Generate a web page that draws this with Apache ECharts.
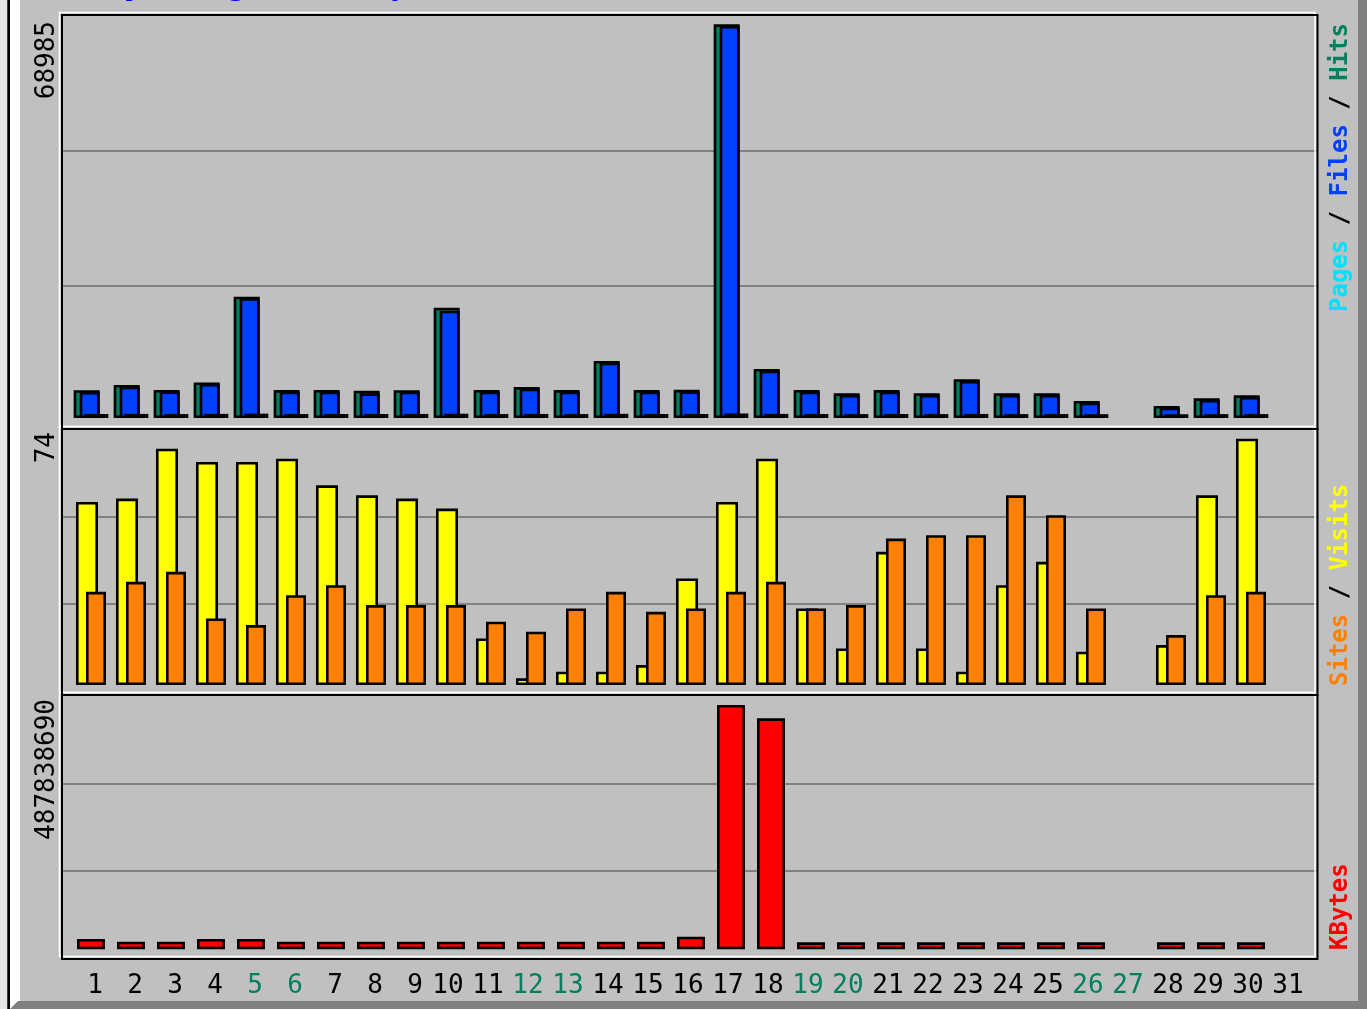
<!DOCTYPE html>
<html>
<head>
<meta charset="utf-8">
<script src="https://cdn.jsdelivr.net/npm/echarts@6/dist/echarts.min.js"></script>
<style>
html,body{margin:0;padding:0;background:#c0c0c0;overflow:hidden;}
#c{width:1367px;height:1009px;}
</style>
</head>
<body>
<div id="c"></div>
<script>
// ---- data ----
const titleText = 'Daily usage for April 2014';
const days = ['1','2','3','4','5','6','7','8','9','10','11','12','13','14','15','16','17','18','19','20','21','22','23','24','25','26','27','28','29','30','31'];
const weekendDays = ['5','6','12','13','19','20','26','27'];

const hits  = [4870, 5790, 4925, 6240, 21260, 4890, 4915, 4785, 4880, 19330, 4905, 5420, 4895, 9990, 4900, 4930, 68985, 8590, 4910, 4330, 4885, 4340, 6790, 4335, 4320, 2980, null, 2100, 3450, 3980, null];
const files = [4590, 5510, 4640, 5960, 20980, 4610, 4630, 4330, 4600, 18800, 4620, 5140, 4610, 9710, 4620, 4650, 68690, 8310, 4630, 4050, 4600, 4060, 6510, 4050, 4040, 2700, null, 1820, 3170, 3700, null];
const pages = [702, 715, 688, 721, 760, 694, 706, 699, 711, 748, 692, 708, 689, 727, 697, 703, 790, 718, 695, 683, 700, 686, 712, 681, 690, 668, null, 655, 677, 686, null];

const visits = [55, 56, 71, 67, 67, 68, 60, 57, 56, 53, 14, 2, 4, 4, 6, 32, 55, 68, 23, 11, 40, 11, 4, 30, 37, 10, null, 12, 57, 74, null];
const sites  = [28, 31, 34, 20, 18, 27, 30, 24, 24, 24, 19, 16, 23, 28, 22, 23, 28, 31, 23, 24, 44, 45, 45, 57, 51, 23, null, 15, 27, 28, null];

const kbytes = [20612450, 15184310, 15252980, 20580210, 20715530, 15205760, 15168940, 15241200, 15196880, 15222450, 15187610, 15210340, 15175290, 15238720, 15201860, 25152740, 487838690, 461327380, 14014520, 13987330, 14026940, 13995610, 14008470, 13981250, 14019830, 13993460, null, 14002570, 13988940, 14011360, null];

// ---- styling ----
const FONT = '"DejaVu Sans Mono", "Liberation Mono", monospace';
const C = {
  bg: '#c0c0c0', grid: '#808080', shadow: '#808080',
  hits: '#00805c', files: '#0040ff', pages: '#00e0ff',
  visits: '#ffff00', sites: '#ff8000', kbytes: '#ff0000'
};

const maxHits = Math.max(...hits);
const maxVisits = Math.max(...visits);
const maxKB = Math.max(...kbytes);

const chart = echarts.init(document.getElementById('c'), null, {renderer: 'canvas'});

// bar plot areas (x positions shared by all panels)
const barL = 71, barW = 1240;
const barGrids = [
  {left: barL, width: barW, top: 24.3, height: 393.7},
  {left: barL, width: barW, top: 438.7, height: 246.3},
  {left: barL, width: barW, top: 705, height: 244.3}
];
// panel areas for the horizontal guide lines
const lineGrids = [
  {left: 62, width: 1255.5, top: 16, height: 405},
  {left: 62, width: 1255.5, top: 429.4, height: 261.9},
  {left: 62, width: 1255.5, top: 695.6, height: 263.1}
];
const grids = barGrids.concat(lineGrids).map(g => Object.assign({outerBoundsMode: 'none', containLabel: false, show: false}, g));

const labelFormatter = function (v) {
  const w = weekendDays.indexOf(v) >= 0;
  if (v.length === 1) return (w ? '{w1|' : '{d1|') + v + '}';
  return (w ? '{w2|' : '{d2|') + v + '}';
};
const lblBase = {fontFamily: FONT, fontSize: 26};

const xAxes = [];
const yAxes = [];
barGrids.forEach((g, i) => {
  xAxes.push({
    type: 'category', gridIndex: i, data: days,
    axisLine: {show: false}, axisTick: {show: false}, splitLine: {show: false},
    axisLabel: i === 2 ? {
      show: true, interval: 0, margin: 24, formatter: labelFormatter,
      fontFamily: FONT, fontSize: 26, color: '#000',
      rich: {
        d1: Object.assign({color: '#000', padding: [0, 0, 0, 8]}, lblBase),
        w1: Object.assign({color: C.hits, padding: [0, 0, 0, 8]}, lblBase),
        d2: Object.assign({color: '#000', padding: [0, 6, 0, 0]}, lblBase),
        w2: Object.assign({color: C.hits, padding: [0, 6, 0, 0]}, lblBase)
      }
    } : {show: false}
  });
  yAxes.push({
    type: 'value', gridIndex: i, min: 0, max: [maxHits, maxVisits, maxKB][i],
    show: false, splitLine: {show: false}
  });
});
lineGrids.forEach((g, j) => {
  const gi = 3 + j;
  xAxes.push({type: 'value', gridIndex: gi, min: 0, max: 1, show: false});
  yAxes.push({
    type: 'value', gridIndex: gi, min: 0, max: 3, interval: 1,
    axisLine: {show: false}, axisTick: {show: false}, axisLabel: {show: false},
    splitLine: {show: true, showMinLine: false, showMaxLine: false, lineStyle: {color: C.grid, width: 2}}
  });
});

const border = {borderColor: '#000', borderWidth: 2.6};
const series = [
  {name: 'Hits', type: 'bar', xAxisIndex: 0, yAxisIndex: 0, data: hits, barWidth: 26, barGap: '-76.9%',
   itemStyle: Object.assign({color: C.hits}, border)},
  {name: 'Files', type: 'bar', xAxisIndex: 0, yAxisIndex: 0, data: files, barWidth: 20, barGap: '-76.9%',
   itemStyle: Object.assign({color: C.files}, border)},
  {name: 'Pages', type: 'bar', xAxisIndex: 0, yAxisIndex: 0, data: pages, barWidth: 24, barGap: '-76.9%',
   itemStyle: Object.assign({color: C.pages}, border)},
  {name: 'Visits', type: 'bar', xAxisIndex: 1, yAxisIndex: 1, data: visits, barWidth: 22, barGap: '-54.5%',
   itemStyle: Object.assign({color: C.visits}, border)},
  {name: 'Sites', type: 'bar', xAxisIndex: 1, yAxisIndex: 1, data: sites, barWidth: 20, barGap: '-54.5%',
   itemStyle: Object.assign({color: C.sites}, border)},
  {name: 'KBytes', type: 'bar', xAxisIndex: 2, yAxisIndex: 2, data: kbytes, barWidth: 28,
   itemStyle: Object.assign({color: C.kbytes}, border)}
];
series.forEach(s => { s.emphasis = {disabled: true}; s.silent = true; });

// ---- decorations (frames, bevels, rotated texts) ----
const panels = [[62, 15, 1317.5, 429], [62, 429, 1317.5, 695], [62, 695, 1317.5, 959]];
const graphic = [];
// outer bevels
graphic.push({type: 'rect', z: 1, shape: {x: 0, y: 0, width: 7.3, height: 1009}, style: {fill: '#e6e6e6'}});
graphic.push({type: 'rect', z: 1, shape: {x: 7.3, y: 0, width: 2.7, height: 1009}, style: {fill: '#000'}});
graphic.push({type: 'rect', z: 1, shape: {x: 10, y: 0, width: 10, height: 1009}, style: {fill: '#ffffff'}});
graphic.push({type: 'rect', z: 1, shape: {x: 1358, y: 0, width: 9, height: 1009}, style: {fill: C.shadow}});
graphic.push({type: 'polygon', z: 1, shape: {points: [[10, 1009], [18, 1001], [1367, 1001], [1367, 1009]]}, style: {fill: C.shadow}});
// panel frames: white offset line, then black line
panels.forEach(p => {
  graphic.push({type: 'rect', z: 5, shape: {x: p[0] - 2.5, y: p[1] - 2.5, width: p[2] - p[0], height: p[3] - p[1]},
    style: {fill: 'none', stroke: '#ffffff', lineWidth: 1.6}});
});
panels.forEach(p => {
  graphic.push({type: 'rect', z: 6, shape: {x: p[0], y: p[1], width: p[2] - p[0], height: p[3] - p[1]},
    style: {fill: 'none', stroke: '#000', lineWidth: 2}});
});
// max value labels (rotated, reading upward)
[[String(maxHits), 21], [String(maxVisits), 432], [String(maxKB), 699]].forEach(t => {
  graphic.push({type: 'text', z: 7, x: 47, y: t[1], rotation: Math.PI / 2,
    style: {text: t[0], font: '26px ' + FONT, fill: '#000', align: 'right', textAlign: 'right',
            verticalAlign: 'middle', textVerticalAlign: 'middle'}});
});
// right-hand legends
const rightLabels = [
  {y: 312, text: '{p|Pages}{s| / }{f|Files}{s| / }{h|Hits}'},
  {y: 686, text: '{st|Sites}{s| / }{v|Visits}'},
  {y: 950, text: '{k|KBytes}'}
];
const rich = {
  p: {fill: C.pages, color: C.pages}, f: {fill: C.files, color: C.files}, h: {fill: C.hits, color: C.hits},
  st: {fill: C.sites, color: C.sites}, v: {fill: C.visits, color: C.visits}, k: {fill: C.kbytes, color: C.kbytes},
  s: {fill: '#000', color: '#000'}
};
Object.keys(rich).forEach(k => { rich[k].font = 'bold 24px ' + FONT; });
rightLabels.forEach(r => {
  graphic.push({type: 'text', z: 7, x: 1341, y: r.y, rotation: Math.PI / 2,
    style: {text: r.text, rich: rich, font: 'bold 24px ' + FONT, fill: '#000', align: 'left', textAlign: 'left',
            verticalAlign: 'middle', textVerticalAlign: 'middle'}});
});
// title (mostly above the visible area)
graphic.push({type: 'text', z: 7, x: 42, y: -15,
  style: {text: titleText, font: 'bold 34px ' + FONT, fill: '#0000ff', align: 'left', textAlign: 'left',
          verticalAlign: 'middle', textVerticalAlign: 'middle'}});

chart.setOption({
  animation: false,
  backgroundColor: C.bg,
  tooltip: {show: false},
  grid: grids,
  xAxis: xAxes,
  yAxis: yAxes,
  series: series,
  graphic: {elements: graphic}
});
</script>
</body>
</html>
